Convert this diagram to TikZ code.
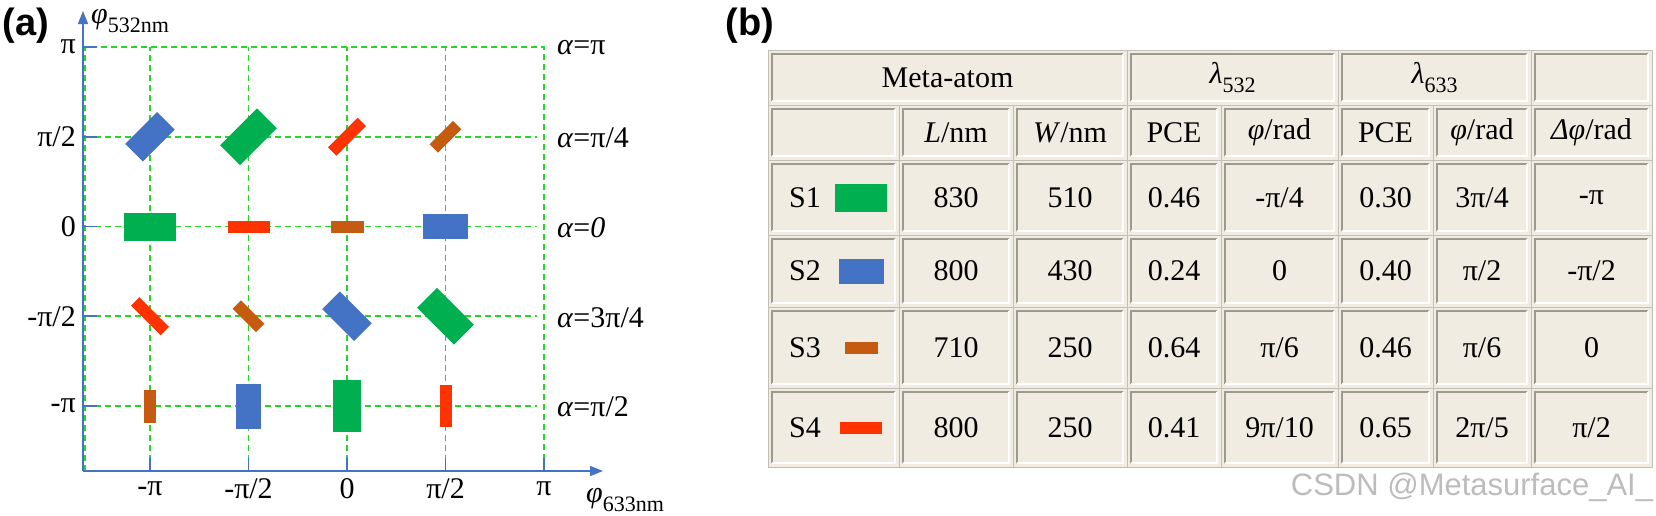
\documentclass[tikz,border=0pt]{standalone}
\usepackage{fontspec}
\setmainfont{Liberation Serif}
\newfontfamily\panelfont{Liberation Sans}
\newfontfamily\tablefont{Liberation Serif}
\usetikzlibrary{arrows.meta}

\definecolor{sgreen}{RGB}{0,176,80}
\definecolor{sblue}{RGB}{68,114,196}
\definecolor{sbrown}{RGB}{197,90,17}
\definecolor{sred}{RGB}{255,51,0}
\definecolor{axisblue}{RGB}{68,114,196}
\definecolor{gridgreen}{RGB}{40,214,40}
\definecolor{cellbg}{RGB}{240,236,226}
\definecolor{cellgray}{RGB}{196,191,180}
\definecolor{markgray}{RGB}{188,188,188}

\tikzset{
  every node/.style={inner sep=0pt, font=\tablefont\fontsize{30}{34}\selectfont},
  meta1/.style={fill=sgreen, minimum width=52pt, minimum height=28pt},
  meta2/.style={fill=sblue, minimum width=45pt, minimum height=25pt},
  meta3/.style={fill=sbrown, minimum width=33pt, minimum height=12pt},
  meta4/.style={fill=sred, minimum width=42pt, minimum height=12pt},
  gridline/.style={gridgreen, line width=1.9pt, dash pattern=on 6pt off 4pt},
  axisline/.style={axisblue, line width=1.6pt},
  celldark/.style={cellgray!80!black, line width=1.1pt},
  celllight/.style={white, line width=1.6pt},
}

\newcommand{\lowsub}[1]{\raisebox{-0.3em}{\fontsize{22}{23}\selectfont #1}}
% one raised cell of the table: x1, y1, x2, y2
\newcommand{\insetcell}[4]{%
  \draw[cellgray, line width=1pt] (#1,#2) rectangle (#3,#4);
  \draw[celldark] (#1+4,#4-4) |- (#3-4,#2+4);
  \draw[celllight] (#1+4,#4-4) -| (#3-4,#2+4);
}

\begin{document}
\begin{tikzpicture}[x=1pt, y=-1pt, >={Triangle[length=13pt, width=10pt]}]
\useasboundingbox (0,0) rectangle (1656,515);

% (a) phase grid
\draw[gridline] (85,471) rectangle (544,47);
\foreach \c in {1,...,4}
  \draw[gridline] ({51.5+98.5*\c},471) -- ({51.5+98.5*\c},47);
\foreach \r in {2,...,5}
  \draw[gridline] (85,{47+89.75*(\r-1)}) -- (537,{47+89.75*(\r-1)});

\draw[axisline,->] (83,471) -- (83,11);
\draw[axisline,->] (83,471) -- (603,471);
\foreach \r in {1,...,5}
  \draw[axisline] (83,{47+89.75*(\r-1)}) -- (97,{47+89.75*(\r-1)});
\foreach \c in {1,...,5}
  \draw[axisline] ({51.5+98.5*\c},471) -- ({51.5+98.5*\c},458);

\foreach \t [count=\r] in {π,π/2,0,-π/2,-π}
  \node[anchor=east] (ytick\r) at (76,{47+89.75*(\r-1)}) {\t};
\foreach \t [count=\c] in {-π,-π/2,0,π/2,π}
  \node (xtick\c) at ({51.5+98.5*\c},489) {\t};
\foreach \t [count=\r] in {π,π/4,\textit{0},3π/4,π/2}
  \node[anchor=west] (alpha\r) at (557,{48+89.75*(\r-1)}) {\textit{α}=\t};

\node[anchor=west] (phiy) at (91,21) {\textit{φ}\lowsub{532nm}};
\node[anchor=west] (phix) at (586,500) {\textit{φ}\lowsub{633nm}};

\foreach \s/\c/\r/\a [count=\n] in {2/1/2/45, 1/2/2/45, 4/3/2/45, 3/4/2/45,
    1/1/3/0, 4/2/3/0, 3/3/3/0, 2/4/3/0,
    4/1/4/-45, 3/2/4/-45, 2/3/4/-45, 1/4/4/-45,
    3/1/5/90, 2/2/5/90, 1/3/5/90, 4/4/5/90}
  \node[meta\s, rotate=\a] (atom\n) at ({51.5+98.5*\c},{47+89.75*(\r-1)}) {};

% (b) table
\fill[cellbg] (768,50) rectangle (1652,467);
\foreach \xa/\xb in {768/1127, 1127/1338, 1338/1531, 1531/1652}
  \insetcell{\xa}{50}{\xb}{105};
\foreach \ya/\yb in {105/160, 160/235, 235/307, 307/388, 388/467}
  \foreach \xa/\xb in {768/899, 899/1013, 1013/1127, 1127/1221, 1221/1338, 1338/1433, 1433/1531, 1531/1652}
    \insetcell{\xa}{\ya}{\xb}{\yb};

\node (hmeta) at (947.5,77.5) {Meta-atom};
\node (hlama) at (1232.5,77.5) {\textit{λ}\lowsub{532}};
\node (hlamb) at (1434.5,77.5) {\textit{λ}\lowsub{633}};
\foreach \x/\t [count=\n] in {956/{\textit{L}/nm}, 1070/{\textit{W}/nm}, 1174/PCE, 1279.5/{\textit{φ}/rad},
    1385.5/PCE, 1482/{\textit{φ}/rad}, 1591.5/{\textit{Δφ}/rad}}
  \node (head\n) at (\x,132.5) {\t};

\foreach \y [count=\s] in {197.5, 271, 347.5, 427.5} {
  \node[anchor=west] (name\s) at (789,\y) {S\s};
  \node[meta\s] (swatch\s) at (861,\y) {};
}
\foreach \x/\v [count=\n] in {956/830, 1070/510, 1174/0.46, 1279.5/{-π/4}, 1385.5/0.30, 1482/{3π/4}, 1591.5/-π}
  \node (sone\n) at (\x,197.5) {\v};
\foreach \x/\v [count=\n] in {956/800, 1070/430, 1174/0.24, 1279.5/0, 1385.5/0.40, 1482/{π/2}, 1591.5/{-π/2}}
  \node (stwo\n) at (\x,271) {\v};
\foreach \x/\v [count=\n] in {956/710, 1070/250, 1174/0.64, 1279.5/{π/6}, 1385.5/0.46, 1482/{π/6}, 1591.5/0}
  \node (sthree\n) at (\x,347.5) {\v};
\foreach \x/\v [count=\n] in {956/800, 1070/250, 1174/0.41, 1279.5/{9π/10}, 1385.5/0.65, 1482/{2π/5}, 1591.5/{π/2}}
  \node (sfour\n) at (\x,427.5) {\v};

% panel letters and mark
\node[font=\panelfont\bfseries\fontsize{38}{40}\selectfont] (labela) at (26,26) {(a)};
\node[font=\panelfont\bfseries\fontsize{38}{40}\selectfont] (labelb) at (750,26) {(b)};
\node[font=\panelfont\fontsize{31}{33}\selectfont, text=markgray] (mark) at (1472,487) {CSDN @Metasurface\_AI\_};
\end{tikzpicture}
\end{document}
